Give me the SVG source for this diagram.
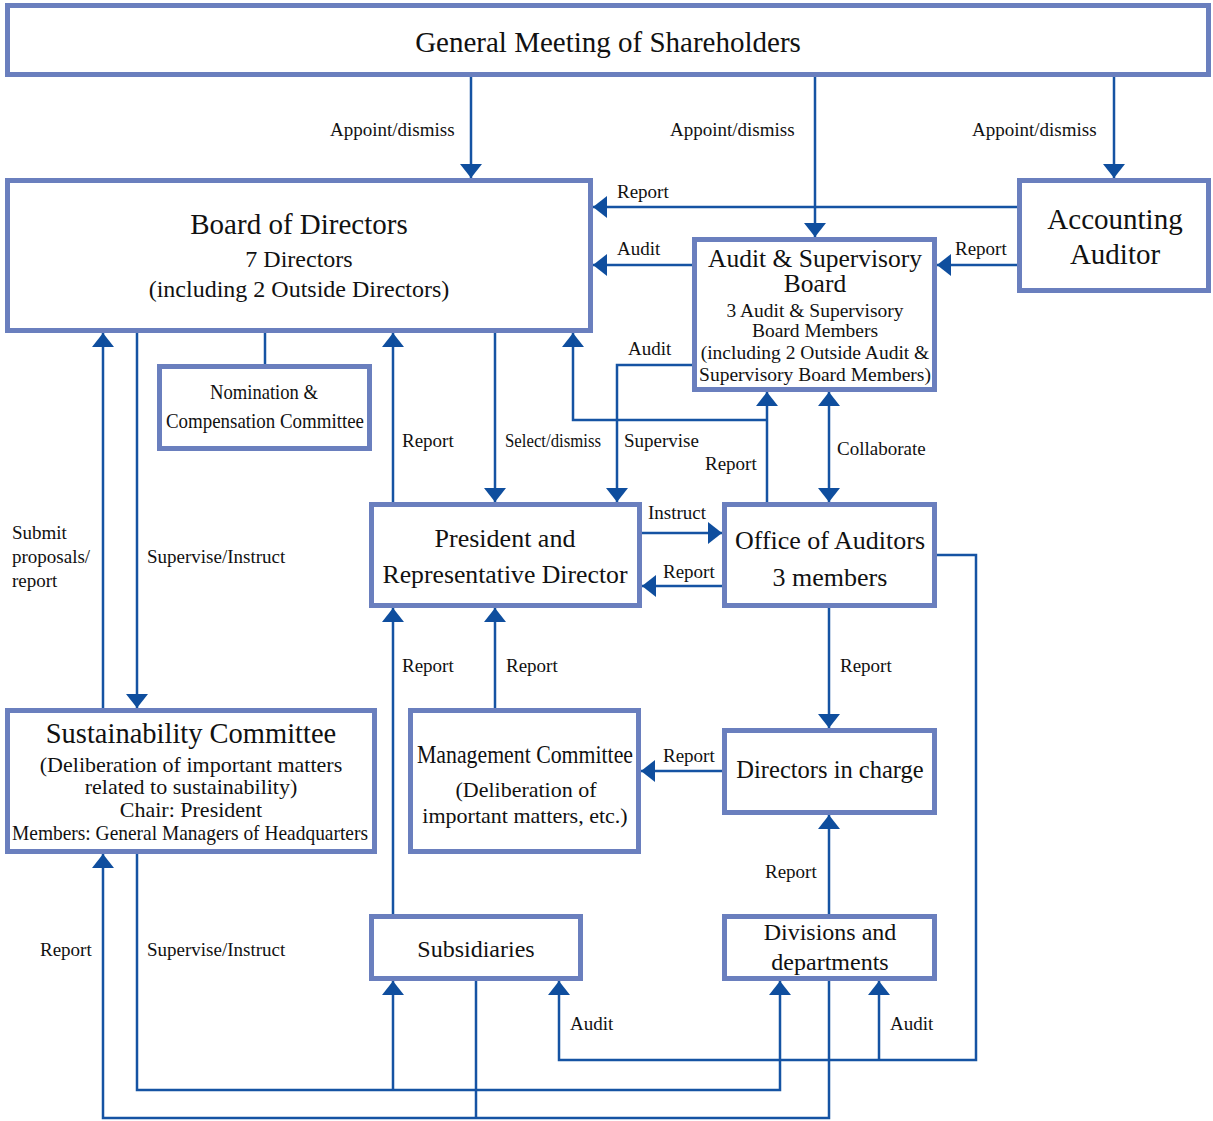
<svg xmlns="http://www.w3.org/2000/svg" width="1213" height="1121" viewBox="0 0 1213 1121">
<style>
.box{fill:#fff;stroke:#6a7fbe;stroke-width:5}
.ln{fill:none;stroke:#1553a3;stroke-width:2.5}
.t{font-family:"Liberation Serif","Times New Roman",serif;fill:#111;text-anchor:middle}
.l{font-family:"Liberation Serif","Times New Roman",serif;fill:#111;font-size:19px}
</style>
<defs>
<marker id="ah" viewBox="0 0 14 22" refX="14" refY="11" markerWidth="14" markerHeight="22" markerUnits="userSpaceOnUse" orient="auto-start-reverse">
<path d="M0,0 L14,11 L0,22 z" fill="#0f4e9e"/>
</marker>
</defs>
<rect width="1213" height="1121" fill="#fff"/>

<g id="connectors">
<path class="ln" d="M471,77 V178" marker-end="url(#ah)"/>
<path class="ln" d="M815,77 V237" marker-end="url(#ah)"/>
<path class="ln" d="M1114,77 V178" marker-end="url(#ah)"/>
<path class="ln" d="M1017,207 H593" marker-end="url(#ah)"/>
<path class="ln" d="M692,265 H593" marker-end="url(#ah)"/>
<path class="ln" d="M1017,265 H937" marker-end="url(#ah)"/>
<path class="ln" d="M265,333 V364"/>
<path class="ln" d="M103,708 V333" marker-end="url(#ah)"/>
<path class="ln" d="M137,333 V708" marker-end="url(#ah)"/>
<path class="ln" d="M393,502 V333" marker-end="url(#ah)"/>
<path class="ln" d="M495,333 V502" marker-end="url(#ah)"/>
<path class="ln" d="M692,365 H617 V502" marker-end="url(#ah)"/>
<path class="ln" d="M767,502 V392" marker-end="url(#ah)"/>
<path class="ln" d="M767,420 H573 V333" marker-end="url(#ah)"/>
<path class="ln" d="M829,392 V502" marker-start="url(#ah)" marker-end="url(#ah)"/>
<path class="ln" d="M642,533 H722" marker-end="url(#ah)"/>
<path class="ln" d="M722,586 H642" marker-end="url(#ah)"/>
<path class="ln" d="M829,608 V728" marker-end="url(#ah)"/>
<path class="ln" d="M722,771 H641" marker-end="url(#ah)"/>
<path class="ln" d="M495,708 V608" marker-end="url(#ah)"/>
<path class="ln" d="M393,914 V608" marker-end="url(#ah)"/>
<path class="ln" d="M829,914 V815" marker-end="url(#ah)"/>
<path class="ln" d="M137,854 V1090 H780 V981" marker-end="url(#ah)"/>
<path class="ln" d="M393,1090 V981" marker-end="url(#ah)"/>
<path class="ln" d="M829,981 V1118 H103 V854" marker-end="url(#ah)"/>
<path class="ln" d="M476,981 V1118"/>
<path class="ln" d="M937,555 H976 V1060 H559 V981" marker-end="url(#ah)"/>
<path class="ln" d="M879,1060 V981" marker-end="url(#ah)"/>

<text class="l" x="330" y="136">Appoint/dismiss</text>
<text class="l" x="670" y="136">Appoint/dismiss</text>
<text class="l" x="972" y="136">Appoint/dismiss</text>
<text class="l" x="617" y="198">Report</text>
<text class="l" x="617" y="255">Audit</text>
<text class="l" x="955" y="255">Report</text>
<text class="l" x="628" y="355">Audit</text>
<text class="l" x="402" y="447">Report</text>
<text class="l" x="505" y="447" textLength="96" lengthAdjust="spacingAndGlyphs">Select/dismiss</text>
<text class="l" x="624" y="447">Supervise</text>
<text class="l" x="705" y="470">Report</text>
<text class="l" x="837" y="455">Collaborate</text>
<text class="l" x="12" y="539">Submit</text>
<text class="l" x="12" y="563">proposals/</text>
<text class="l" x="12" y="587">report</text>
<text class="l" x="147" y="563">Supervise/Instruct</text>
<text class="l" x="648" y="519">Instruct</text>
<text class="l" x="663" y="578">Report</text>
<text class="l" x="840" y="672">Report</text>
<text class="l" x="506" y="672">Report</text>
<text class="l" x="402" y="672">Report</text>
<text class="l" x="663" y="762">Report</text>
<text class="l" x="765" y="878">Report</text>
<text class="l" x="40" y="956">Report</text>
<text class="l" x="147" y="956">Supervise/Instruct</text>
<text class="l" x="570" y="1030">Audit</text>
<text class="l" x="890" y="1030">Audit</text>
</g>

<g id="gms">
<rect class="box" x="7.5" y="5.5" width="1201" height="69"/>
<text class="t" x="608" y="52" font-size="29">General Meeting of Shareholders</text>
</g>
<g id="board">
<rect class="box" x="7.5" y="180.5" width="583" height="150"/>
<text class="t" x="299" y="234" font-size="29">Board of Directors</text>
<text class="t" x="299" y="267" font-size="24">7 Directors</text>
<text class="t" x="299" y="297" font-size="24">(including 2 Outside Directors)</text>
</g>
<g id="accounting-auditor">
<rect class="box" x="1019.5" y="180.5" width="189" height="110"/>
<text class="t" x="1115" y="229" font-size="29">Accounting</text>
<text class="t" x="1115" y="264" font-size="29">Auditor</text>
</g>
<g id="asb">
<rect class="box" x="694.5" y="239.5" width="240" height="150"/>
<text class="t" x="815" y="267" font-size="25.5">Audit &amp; Supervisory</text>
<text class="t" x="815" y="292" font-size="25.5">Board</text>
<text class="t" x="815" y="317" font-size="19.5">3 Audit &amp; Supervisory</text>
<text class="t" x="815" y="337" font-size="19.5">Board Members</text>
<text class="t" x="815" y="359" font-size="19.5">(including 2 Outside Audit &amp;</text>
<text class="t" x="815" y="381" font-size="19.5">Supervisory Board Members)</text>
</g>
<g id="nomination">
<rect class="box" x="159.5" y="366.5" width="210" height="82"/>
<text class="t" x="264" y="399" font-size="22" textLength="108" lengthAdjust="spacingAndGlyphs">Nomination &amp;</text>
<text class="t" x="265" y="428" font-size="22" textLength="198" lengthAdjust="spacingAndGlyphs">Compensation Committee</text>
</g>
<g id="president">
<rect class="box" x="371.5" y="504.5" width="268" height="101"/>
<text class="t" x="505" y="547" font-size="26">President and</text>
<text class="t" x="505" y="583" font-size="26" textLength="245" lengthAdjust="spacingAndGlyphs">Representative Director</text>
</g>
<g id="office-auditors">
<rect class="box" x="724.5" y="504.5" width="210" height="101"/>
<text class="t" x="830" y="549" font-size="26">Office of Auditors</text>
<text class="t" x="830" y="586" font-size="26">3 members</text>
</g>
<g id="sustainability">
<rect class="box" x="7.5" y="710.5" width="367" height="141"/>
<text class="t" x="191" y="743" font-size="28.5">Sustainability Committee</text>
<text class="t" x="191" y="772" font-size="22">(Deliberation of important matters</text>
<text class="t" x="191" y="794" font-size="22">related to sustainability)</text>
<text class="t" x="191" y="817" font-size="22">Chair: President</text>
<text class="t" x="190" y="840" font-size="22" textLength="356" lengthAdjust="spacingAndGlyphs">Members: General Managers of Headquarters</text>
</g>
<g id="management">
<rect class="box" x="410.5" y="710.5" width="228" height="141"/>
<text class="t" x="525" y="763" font-size="26" textLength="216" lengthAdjust="spacingAndGlyphs">Management Committee</text>
<text class="t" x="526" y="797" font-size="22">(Deliberation of</text>
<text class="t" x="525" y="823" font-size="22">important matters, etc.)</text>
</g>
<g id="directors-in-charge">
<rect class="box" x="724.5" y="730.5" width="210" height="82"/>
<text class="t" x="830" y="778" font-size="24.5">Directors in charge</text>
</g>
<g id="subsidiaries">
<rect class="box" x="371.5" y="916.5" width="209" height="62"/>
<text class="t" x="476" y="957" font-size="24">Subsidiaries</text>
</g>
<g id="divisions">
<rect class="box" x="724.5" y="916.5" width="210" height="62"/>
<text class="t" x="830" y="940" font-size="24">Divisions and</text>
<text class="t" x="830" y="970" font-size="24">departments</text>
</g>
</svg>
